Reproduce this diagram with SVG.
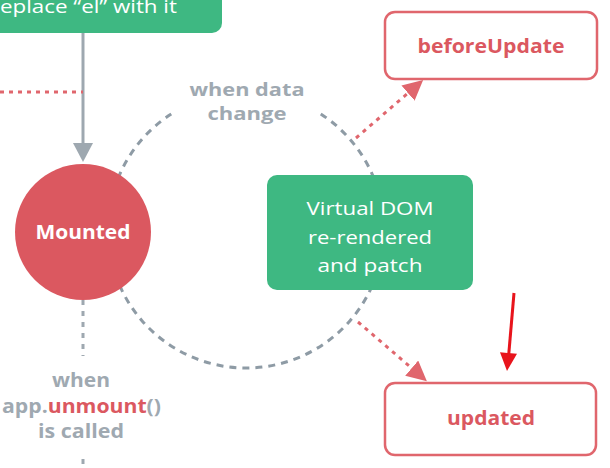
<svg xmlns="http://www.w3.org/2000/svg" width="610" height="468" viewBox="0 0 610 468">
<style>
  .lbl{font-family:"Open Sans","Liberation Sans",sans-serif;font-weight:700;font-size:19px;text-anchor:middle}
  .gray{fill:#9fa9b1}
  .red{fill:#db5860}
  .white{fill:#ffffff}
  .reg{font-family:"Open Sans","Liberation Sans",sans-serif;font-weight:400;font-size:19px;text-anchor:middle;fill:#ffffff}
  .hook{fill:#ffffff;stroke:#e0666d;stroke-width:2.5}
  .gdash{fill:none;stroke:#8e9ba5;stroke-width:3;stroke-dasharray:7 6}
  .gdot{fill:none;stroke:#9ea8b0;stroke-width:3;stroke-dasharray:5 6}
  .rdot{fill:none;stroke:#e0666d;stroke-width:3;stroke-dasharray:4 5}
</style>
<defs>
  <marker id="rhead" markerUnits="userSpaceOnUse" viewBox="0 0 20 20" refX="0" refY="10" markerWidth="20" markerHeight="20" orient="auto">
    <path d="M0,0 L20,10 L0,20 z" fill="#e0666d"/>
  </marker>
</defs>

<g id="connectors">
  <path class="gdash" d="M 320.75 114 A 138 138 0 1 1 171.25 114"/>
  <line x1="83" y1="33" x2="83" y2="145" stroke="#9ea8b0" stroke-width="3"/>
  <polygon points="73,143 93,143 83,162" fill="#9ea8b0"/>
  <line class="rdot" x1="0" y1="92" x2="83" y2="92"/>
  <line class="gdot" x1="83" y1="300" x2="83" y2="356"/>
  <line class="gdot" x1="83" y1="459" x2="83" y2="468"/>
  <line class="rdot" x1="356" y1="138" x2="408" y2="93.1" marker-end="url(#rhead)"/>
  <line class="rdot" x1="358" y1="322" x2="411.7" y2="368.1" marker-end="url(#rhead)"/>
  <line x1="514" y1="293" x2="508.6" y2="356" stroke="#e8141c" stroke-width="3"/>
  <polygon points="507,371 500,352.2 517,353.8" fill="#e8141c"/>
</g>

<g id="create-box">
  <rect x="-20" y="-20" width="242" height="53" rx="10" fill="#3eb882"/>
  <text class="reg" x="0" y="13" style="text-anchor:start;font-size:18px" textLength="177" lengthAdjust="spacingAndGlyphs">eplace “el” with it</text>
</g>

<g id="when-data-change">
  <text class="lbl gray" x="247" y="96" style="font-size:17px" textLength="115" lengthAdjust="spacingAndGlyphs">when data</text>
  <text class="lbl gray" x="247" y="120" style="font-size:17px" textLength="79" lengthAdjust="spacingAndGlyphs">change</text>
</g>

<g id="mounted">
  <circle cx="83" cy="232" r="68" fill="#db5860"/>
  <text class="lbl white" x="83" y="239" textLength="95" lengthAdjust="spacingAndGlyphs">Mounted</text>
</g>

<g id="vdom">
  <rect x="267" y="175" width="206" height="115" rx="10" fill="#3eb882"/>
  <text class="reg" x="370" y="215" textLength="127" lengthAdjust="spacingAndGlyphs">Virtual DOM</text>
  <text class="reg" x="370" y="244" textLength="124" lengthAdjust="spacingAndGlyphs">re-rendered</text>
  <text class="reg" x="370" y="272" textLength="105" lengthAdjust="spacingAndGlyphs">and patch</text>
</g>

<g id="beforeUpdate">
  <rect class="hook" x="385" y="12" width="212" height="67" rx="10"/>
  <text class="lbl red" x="491" y="53" textLength="147" lengthAdjust="spacingAndGlyphs">beforeUpdate</text>
</g>

<g id="updated">
  <rect class="hook" x="385" y="383" width="211" height="72" rx="10"/>
  <text class="lbl red" x="491" y="425" textLength="88" lengthAdjust="spacingAndGlyphs">updated</text>
</g>

<g id="when-unmount">
  <text class="lbl gray" x="81" y="387" textLength="58" lengthAdjust="spacingAndGlyphs">when</text>
  <text class="lbl gray" x="81.5" y="413" textLength="159" lengthAdjust="spacingAndGlyphs">app.<tspan class="red">unmount</tspan>()</text>
  <text class="lbl gray" x="81" y="438" textLength="86" lengthAdjust="spacingAndGlyphs">is called</text>
</g>
</svg>
